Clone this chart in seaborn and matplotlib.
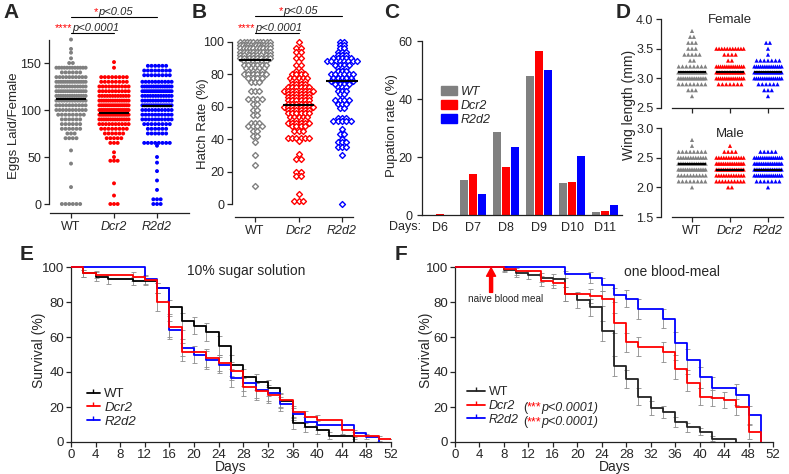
import numpy as np
import pandas as pd
import matplotlib
matplotlib.use('Agg')
import matplotlib.pyplot as plt
from matplotlib.lines import Line2D
from matplotlib.patches import Patch
import seaborn as sns

sns.set_style('ticks')
plt.rcParams['font.family'] = ['Liberation Sans', 'DejaVu Sans']
plt.rcParams['axes.linewidth'] = 0.9
plt.rcParams['xtick.major.width'] = 0.9
plt.rcParams['ytick.major.width'] = 0.9
plt.rcParams['xtick.major.size'] = 3.5
plt.rcParams['ytick.major.size'] = 3.5
plt.rcParams['axes.edgecolor'] = '#222222'

W, H = 789, 474

genotypes = ['WT', 'Dcr2', 'R2d2']
grp_colors = ['#808080', '#ff0000', '#0000ff']

# --- A: eggs laid / female (value, how many females) ---
a_wt_vals = [175, 165, 161, 155, 150, 145, 140, 135, 130, 125, 120, 115, 110, 105, 100, 95, 90, 85, 80, 75, 70, 57, 43, 18, 0]
a_wt_counts = [1, 1, 1, 1, 2, 12, 6, 10, 14, 12, 14, 14, 12, 10, 10, 8, 6, 6, 6, 3, 4, 1, 1, 1, 6]
a_dcr2_vals = [151, 145, 135, 130, 125, 120, 115, 110, 105, 100, 95, 90, 85, 80, 75, 70, 65, 55, 50, 46, 22, 9, 0]
a_dcr2_counts = [1, 1, 8, 8, 10, 10, 12, 14, 16, 18, 18, 14, 10, 8, 6, 5, 3, 1, 1, 3, 1, 1, 3]
a_r2d2_vals = [147, 142, 137, 130, 125, 120, 115, 110, 105, 100, 95, 90, 85, 80, 75, 65, 62, 50, 44, 35, 25, 15, 5, 0]
a_r2d2_counts = [6, 8, 8, 10, 14, 16, 12, 12, 14, 10, 10, 10, 8, 6, 6, 8, 1, 1, 1, 1, 1, 1, 3, 3]
a_means = [112, 97, 104]

# --- B: hatch rate (%) ---
b_wt_vals = [100, 98, 96, 94, 92, 90, 88, 86, 84, 82, 80, 78, 75, 70, 65, 62, 58, 55, 50, 48, 45, 42, 38, 30, 24, 11]
b_wt_counts = [10, 12, 10, 10, 8, 8, 6, 6, 5, 4, 6, 4, 3, 3, 4, 2, 2, 2, 3, 4, 2, 2, 1, 1, 1, 1]
b_dcr2_vals = [100, 96, 94, 90, 86, 82, 80, 78, 76, 74, 72, 70, 68, 66, 64, 62, 60, 58, 56, 54, 52, 50, 48, 45, 41, 39, 31, 28, 20, 17, 6, 2]
b_dcr2_counts = [1, 2, 2, 2, 2, 2, 4, 5, 4, 4, 6, 8, 6, 6, 6, 6, 8, 6, 6, 5, 4, 6, 4, 3, 6, 1, 1, 2, 2, 2, 1, 3]
b_r2d2_vals = [100, 98, 96, 94, 92, 90, 88, 86, 84, 82, 80, 78, 76, 74, 72, 70, 68, 64, 62, 59, 53, 51, 46, 43, 40, 38, 35, 30, 0]
b_r2d2_counts = [2, 2, 2, 3, 3, 5, 8, 4, 3, 3, 6, 5, 6, 4, 3, 3, 2, 4, 3, 2, 3, 5, 1, 2, 1, 3, 3, 1, 1]
b_means = [89, 61, 76]

# --- C: pupation rate (%) per day ---
days = ['D6', 'D7', 'D8', 'D9', 'D10', 'D11']
c_wt = [0, 12, 28.5, 48, 11.2, 1.2]
c_dcr2 = [0.3, 14, 16.7, 56.5, 11.5, 1.5]
c_r2d2 = [0, 7.2, 23.5, 50, 20.3, 3.5]

# --- D: wing length (mm) ---
d_f_wt_vals = [3.8, 3.7, 3.6, 3.5, 3.4, 3.3, 3.2, 3.1, 3.0, 2.9, 2.8, 2.7]
d_f_wt_counts = [1, 2, 3, 3, 5, 2, 8, 16, 16, 8, 3, 1]
d_f_dcr2_vals = [3.5, 3.4, 3.3, 3.2, 3.1, 3.0, 2.9]
d_f_dcr2_counts = [11, 4, 2, 14, 18, 14, 7]
d_f_r2d2_vals = [3.6, 3.5, 3.4, 3.3, 3.2, 3.1, 3.0, 2.9, 2.8, 2.7]
d_f_r2d2_counts = [2, 1, 1, 7, 14, 16, 14, 6, 3, 1]
d_f_means = [3.1, 3.1, 3.1]
d_m_wt_vals = [2.8, 2.7, 2.6, 2.5, 2.4, 2.3, 2.2, 2.1, 2.0]
d_m_wt_counts = [1, 1, 8, 12, 16, 16, 10, 8, 1]
d_m_dcr2_vals = [2.7, 2.6, 2.5, 2.4, 2.3, 2.2, 2.1, 2.0]
d_m_dcr2_counts = [1, 4, 12, 16, 16, 12, 10, 2]
d_m_r2d2_vals = [2.6, 2.5, 2.4, 2.3, 2.2, 2.1, 2.0]
d_m_r2d2_counts = [5, 14, 16, 16, 14, 7, 1]
d_m_means = [2.4, 2.3, 2.3]

# --- E: survival on 10% sugar (day, % alive, SE) ---
e_wt_t = [0, 2, 4, 6, 10, 14, 16, 18, 20, 22, 24, 26, 28, 30, 32, 34, 36, 38, 40, 42, 46]
e_wt_s = [100, 96.5, 94.5, 93, 92, 88, 77, 69, 66.5, 63, 55, 44, 37, 34.5, 31, 23.5, 11, 8.5, 7, 3.5, 0]
e_wt_se = [0, 2, 2.5, 2.5, 2.5, 3, 4, 5, 5, 5, 5.5, 6, 5, 4.5, 4.5, 4, 3.5, 3, 2.5, 2, 0]
e_dcr2_t = [0, 2, 4, 10, 12, 14, 16, 18, 22, 24, 26, 28, 30, 32, 34, 36, 38, 40, 44, 46, 50, 52]
e_dcr2_s = [100, 96.5, 95.5, 94.5, 92.5, 80, 66, 51.5, 48, 45, 40.5, 31.5, 29, 27, 24, 17, 14.5, 12.5, 7, 3.5, 2, 2]
e_dcr2_se = [0, 2, 2, 2.5, 2.5, 5, 6, 5, 5, 4.5, 5, 5, 5, 4.5, 4, 3.5, 3.5, 3, 2.5, 2, 1.5, 0]
e_r2d2_t = [0, 12, 14, 16, 18, 20, 22, 24, 26, 28, 30, 32, 34, 36, 38, 40, 46, 48, 50]
e_r2d2_s = [100, 93, 88, 64, 54, 50, 47, 44, 36.5, 33.5, 29.5, 28, 22, 16, 11.5, 9.5, 5, 3, 0]
e_r2d2_se = [0, 2.5, 3, 5, 5, 5, 5, 4.5, 5, 4.5, 4.5, 4.5, 4, 3.5, 3, 2.5, 2, 1.5, 0]

# --- F: survival after one blood meal ---
f_wt_t = [0, 8, 10, 12, 14, 16, 18, 20, 22, 24, 26, 28, 30, 32, 34, 36, 38, 40, 42, 46]
f_wt_s = [100, 98.5, 96.5, 95.5, 94, 93, 84.5, 81, 77, 63.5, 43.5, 36, 26, 19.5, 17, 11.5, 8.5, 6, 2, 0]
f_wt_se = [0, 1.5, 2, 2.5, 2.5, 3, 4, 4.5, 5, 5.5, 5.5, 5, 5, 4, 3.5, 3, 2.5, 2, 1.5, 0]
f_dcr2_t = [0, 8, 10, 14, 16, 18, 22, 24, 26, 28, 30, 34, 36, 38, 40, 42, 44, 46, 48, 50]
f_dcr2_s = [100, 99, 97.5, 92, 91, 84.5, 83.5, 82, 68, 57, 54.5, 51.5, 41.5, 34, 26, 25, 24, 20, 6, 0]
f_dcr2_se = [0, 1.5, 2, 3, 3, 4, 4, 4.5, 5.5, 5.5, 5.5, 5.5, 5.5, 5, 5, 4.5, 4.5, 4.5, 4, 0]
f_r2d2_t = [0, 18, 22, 24, 26, 28, 30, 34, 36, 38, 40, 42, 46, 48, 50]
f_r2d2_s = [100, 96, 94, 90, 84, 82, 76, 70.5, 56.5, 47, 37, 31, 27, 15.5, 0]
f_r2d2_se = [0, 2, 3, 3.5, 4, 5, 5.5, 5.5, 6.5, 6, 6, 6, 6, 5, 0]

fig = plt.figure(figsize=(W / 100, H / 100), dpi=100)


def box(l, t, r, b):
    # axes rectangle from pixel edges (origin top-left)
    return fig.add_axes([l / W, 1 - b / H, (r - l) / W, (b - t) / H])


def ftext(px, py, s, **kw):
    return fig.text(px / W, 1 - py / H, s, **kw)


def rows(vals, counts, step, maxw):
    # GraphPad style column scatter: same values spread in a row
    xs, ys = [], []
    for v, n in zip(vals, counts):
        s = step if n < 2 else min(step, maxw / (n - 1))
        xs.extend((np.arange(n) - (n - 1) / 2) * s)
        ys.extend([v] * n)
    return np.array(xs), np.array(ys)


def col_scatter(ax, groups, means, step, maxw, marker, size, hollow=False, half=0.36):
    for i, (vals, counts) in enumerate(groups):
        xs, ys = rows(vals, counts, step, maxw)
        if hollow:
            sns.scatterplot(x=xs + i, y=ys, ax=ax, marker=marker, s=size,
                            facecolor='white', edgecolor=grp_colors[i], linewidth=1.0, zorder=3)
        else:
            sns.scatterplot(x=xs + i, y=ys, ax=ax, marker=marker, s=size,
                            color=grp_colors[i], edgecolor='none', linewidth=0, zorder=3)
        ax.hlines(means[i], i - half, i + half, color='black', lw=1.5, zorder=5)


def geno_ticks(ax, labels=True, size=9):
    ax.set_xticks([0, 1, 2])
    if labels:
        ax.set_xticklabels(genotypes, fontsize=size)
        for t in ax.get_xticklabels()[1:]:
            t.set_fontstyle('italic')
    else:
        ax.set_xticklabels([])


def sig(ax, x0, x1, y, split, stars, ptxt, size=8):
    ax.plot([x0, x1], [y, y], color='black', lw=0.8, clip_on=False)
    ax.text(split, y, stars, color='red', ha='right', va='bottom', fontsize=size, clip_on=False)
    ax.text(split, y, ptxt, style='italic', ha='left', va='bottom', fontsize=size, clip_on=False)


# ---------------- A ----------------
axA = box(49, 36.7, 192, 213.4)
col_scatter(axA, [(a_wt_vals, a_wt_counts), (a_dcr2_vals, a_dcr2_counts), (a_r2d2_vals, a_r2d2_counts)],
            a_means, 0.085, 0.68, 'o', 8)
axA.set_ylim(-10, 178)
axA.set_xlim(-0.512, 2.814)
axA.set_yticks([0, 50, 100, 150])
geno_ticks(axA)
sns.despine(ax=axA)
axA.spines['left'].set_bounds(0, 175)
axA.spines['bottom'].set_bounds(-0.5, 2.75)
axA.tick_params(labelsize=9, pad=2)
sig(axA, 0, 2, 199, 0.63, '*', 'p<0.05')
sig(axA, 0, 1, 182, 0.03, '****', 'p<0.0001')

# ---------------- B ----------------
axB = box(232, 37.1, 360, 217)
col_scatter(axB, [(b_wt_vals, b_wt_counts), (b_dcr2_vals, b_dcr2_counts), (b_r2d2_vals, b_r2d2_counts)],
            b_means, 0.1, 0.68, 'D', 9, hollow=True)
axB.set_ylim(-8, 103)
axB.set_xlim(-0.529, 2.414)
axB.set_yticks([0, 20, 40, 60, 80, 100])
geno_ticks(axB)
sns.despine(ax=axB)
axB.spines['left'].set_bounds(0, 100)
axB.spines['bottom'].set_bounds(-0.45, 2.25)
axB.tick_params(labelsize=9, pad=2)
sig(axB, 0, 2, 116, 0.64, '*', 'p<0.05')
sig(axB, 0, 1, 105.5, 0.01, '****', 'p<0.0001')

# ---------------- C ----------------
axC = box(422, 35.2, 622, 215)
dfc = pd.DataFrame({
    'day': days * 3,
    'genotype': [g for g in genotypes for _ in days],
    'rate': c_wt + c_dcr2 + c_r2d2,
})
sns.barplot(data=dfc, x='day', y='rate', hue='genotype', order=days, hue_order=genotypes,
            palette=grp_colors, width=0.86, gap=0.16, saturation=1, errorbar=None,
            linewidth=0, legend=False, ax=axC)
axC.set_ylim(0, 62)
axC.set_xlim(-0.545, 5.515)
axC.set_yticks([0, 20, 40, 60])
axC.set_xlabel('')
axC.set_ylabel('')
sns.despine(ax=axC)
axC.spines['left'].set_bounds(0, 60)
axC.tick_params(axis='x', length=0, pad=5)
axC.tick_params(labelsize=9)
axC.text(-0.005, -0.068, 'Days:', transform=axC.transAxes, ha='right', va='center', fontsize=9)
axC.legend(handles=[Patch(color=c, label=g) for g, c in zip(genotypes, grp_colors)],
           loc='upper left', bbox_to_anchor=(441 / W, 1 - 86 / H), bbox_transform=fig.transFigure,
           frameon=False, prop={'style': 'italic', 'size': 9}, handlelength=1.3, handleheight=0.75,
           handletextpad=0.3, labelspacing=0.15, borderpad=0, borderaxespad=0)

# ---------------- D ----------------
axDf = box(661, 14.3, 789, 108)
col_scatter(axDf, [(d_f_wt_vals, d_f_wt_counts), (d_f_dcr2_vals, d_f_dcr2_counts), (d_f_r2d2_vals, d_f_r2d2_counts)],
            d_f_means, 0.1, 0.72, '^', 9)
axDf.set_ylim(2.5, 4.08)
axDf.set_xlim(-0.816, 2.553)
axDf.set_yticks([2.5, 3.0, 3.5, 4.0])
axDf.set_yticklabels(['2.5', '3.0', '3.5', '4.0'])
geno_ticks(axDf, labels=False)
sns.despine(ax=axDf)
axDf.spines['left'].set_bounds(2.5, 4.0)
axDf.spines['bottom'].set_bounds(-0.53, 2.4)
axDf.tick_params(labelsize=9, pad=2)
axDf.text(1, 3.99, 'Female', ha='center', va='center', fontsize=9.5)

axDm = box(661, 123.3, 789, 217)
col_scatter(axDm, [(d_m_wt_vals, d_m_wt_counts), (d_m_dcr2_vals, d_m_dcr2_counts), (d_m_r2d2_vals, d_m_r2d2_counts)],
            d_m_means, 0.1, 0.72, '^', 9)
axDm.set_ylim(1.5, 3.08)
axDm.set_xlim(-0.816, 2.553)
axDm.set_yticks([1.5, 2.0, 2.5, 3.0])
axDm.set_yticklabels(['1.5', '2.0', '2.5', '3.0'])
geno_ticks(axDm)
sns.despine(ax=axDm)
axDm.spines['left'].set_bounds(1.5, 3.0)
axDm.spines['bottom'].set_bounds(-0.53, 2.4)
axDm.tick_params(labelsize=9, pad=2)
axDm.text(1, 2.9, 'Male', ha='center', va='center', fontsize=9.5)


# ---------------- E / F ----------------
def survival(ax, curves, colors):
    for (t, s, se), c in zip(curves, colors):
        sns.lineplot(x=t, y=s, ax=ax, color=c, lw=1.3, drawstyle='steps-post',
                     estimator=None, sort=False, zorder=3)
        ax.errorbar(t[1:], s[1:], yerr=se[1:], fmt='none', ecolor='#8c8c8c', elinewidth=0.6,
                    capsize=1.8, capthick=0.6, zorder=2)
    ax.set_xlim(0, 52)
    ax.set_ylim(0, 103)
    ax.set_xticks(range(0, 53, 4))
    ax.set_yticks(range(0, 101, 20))
    sns.despine(ax=ax)
    ax.spines['left'].set_bounds(0, 100)
    ax.tick_params(labelsize=9.5, pad=1.5)
    ax.set_xlabel('')
    ax.set_ylabel('')


axE = box(71, 261.75, 391, 442)
survival(axE, [(e_wt_t, e_wt_s, e_wt_se), (e_r2d2_t, e_r2d2_s, e_r2d2_se), (e_dcr2_t, e_dcr2_s, e_dcr2_se)],
         ['black', '#0000ff', '#ff0000'])
legE = axE.legend(handles=[Line2D([], [], color=c, lw=1.3, marker=2, markersize=3) for c in ['black', '#ff0000', '#0000ff']],
                  labels=genotypes, loc='upper left', bbox_to_anchor=(87 / W, 1 - 388 / H),
                  bbox_transform=fig.transFigure, frameon=False, fontsize=9.5, handlelength=0.95,
                  handletextpad=0.35, labelspacing=0.12, borderpad=0, borderaxespad=0)
for t in legE.get_texts()[1:]:
    t.set_fontstyle('italic')

axF = box(455, 261.75, 773, 442)
survival(axF, [(f_wt_t, f_wt_s, f_wt_se), (f_r2d2_t, f_r2d2_s, f_r2d2_se), (f_dcr2_t, f_dcr2_s, f_dcr2_se)],
         ['#222222', '#0000ff', '#ff0000'])
legF = axF.legend(handles=[Line2D([], [], color=c, lw=1.3, marker=2, markersize=3) for c in ['#222222', '#ff0000', '#0000ff']],
                  labels=genotypes, loc='upper left', bbox_to_anchor=(467 / W, 1 - 386 / H),
                  bbox_transform=fig.transFigure, frameon=False, fontsize=9, handlelength=1.45,
                  handletextpad=0.3, labelspacing=0.15, borderpad=0, borderaxespad=0)
for t in legF.get_texts()[1:]:
    t.set_fontstyle('italic')
# "(***p<0.0001)" next to the mutant entries, pieces chained left to right
for py in (407.5, 422):
    t1 = ftext(523, py, '(', ha='left', va='center', fontsize=9)
    t2 = axF.annotate('***', xy=(1, 0), xycoords=t1, ha='left', va='bottom', fontsize=9, color='red')
    axF.annotate('p<0.0001)', xy=(1, 0), xycoords=t2, ha='left', va='bottom', fontsize=9, style='italic')

axF.annotate('', xy=(5.9, 99.5), xytext=(5.9, 85.5),
             arrowprops=dict(color='red', width=2.2, headwidth=6.5, headlength=6, shrink=0))
axF.text(8.2, 81.7, 'naive blood meal', ha='center', va='center', fontsize=7.2)

ftext(246, 271, '10% sugar solution', ha='center', va='center', fontsize=10)
ftext(672, 272, 'one blood-meal', ha='center', va='center', fontsize=10)
ftext(231, 467.5, 'Days', ha='center', va='center', fontsize=10)
ftext(615, 467.5, 'Days', ha='center', va='center', fontsize=10)

# axis titles
ftext(14, 126, 'Eggs Laid/Female', rotation=90, ha='center', va='center', fontsize=9.5)
ftext(203, 124, 'Hatch Rate (%)', rotation=90, ha='center', va='center', fontsize=9.5)
ftext(392, 126, 'Pupation rate (%)', rotation=90, ha='center', va='center', fontsize=9.5)
ftext(629, 105, 'Wing length (mm)', rotation=90, ha='center', va='center', fontsize=10)
ftext(39, 350, 'Survival (%)', rotation=90, ha='center', va='center', fontsize=10)
ftext(426, 350, 'Survival (%)', rotation=90, ha='center', va='center', fontsize=10)

# panel letters
for letter, px, py in [('A', 11, 13), ('B', 199, 13), ('C', 392, 13), ('D', 623, 13), ('E', 27, 254), ('F', 401, 254)]:
    ftext(px, py, letter, ha='center', va='center', fontsize=15, fontweight='bold')

fig.savefig('out.png', dpi=100)
